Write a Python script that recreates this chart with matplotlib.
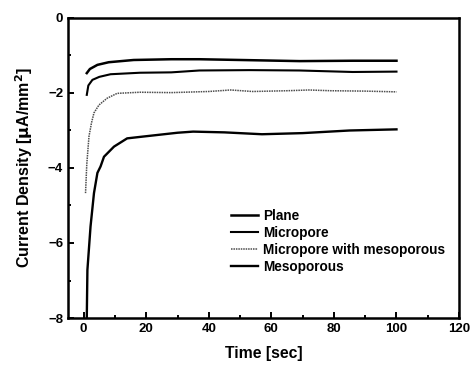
import matplotlib
matplotlib.use("Agg")
import matplotlib.pyplot as plt
from matplotlib.ticker import MultipleLocator

plt.rcParams['font.family'] = ['Liberation Sans', 'DejaVu Sans']
plt.rcParams['font.weight'] = 'bold'

# values
time_plane = [1.0, 2.0, 4.4, 8.0, 16, 28, 37, 50, 69, 86, 100]
plane = [-1.47, -1.36, -1.25, -1.18, -1.12, -1.10, -1.10, -1.12, -1.15, -1.14, -1.14]

time_micro = [1.0, 1.5, 2.8, 5.0, 8.6, 18, 28, 37, 53, 69, 86, 100]
micro = [-2.05, -1.80, -1.65, -1.57, -1.50, -1.46, -1.45, -1.40, -1.39, -1.40, -1.44, -1.43]

time_mwm = [0.6, 1.0, 1.7, 2.5, 3.3, 4.9, 7.5, 10.7, 18, 28, 40, 47, 54, 65, 72, 79, 90, 100]
mwm = [-4.67, -3.90, -3.16, -2.80, -2.53, -2.32, -2.14, -2.01, -1.98, -1.99, -1.96, -1.92,
       -1.96, -1.94, -1.92, -1.94, -1.95, -1.97]

time_meso = [1.0, 1.2, 2.2, 3.3, 4.4, 5.4, 6.5, 9.7, 13.9, 19.2, 30, 35, 45, 57, 70, 85, 95, 100]
meso = [-8.0, -6.72, -5.56, -4.67, -4.13, -3.96, -3.70, -3.43, -3.21, -3.16, -3.06, -3.03,
        -3.05, -3.10, -3.07, -3.00, -2.98, -2.97]

labels = ["Plane", "Micropore", "Micropore with mesoporous", "Mesoporous"]

fig = plt.figure(figsize=(4.7, 3.67), dpi=100)
ax = fig.add_axes([0.1447, 0.1335, 0.832, 0.8175])

ax.plot(time_plane, plane, color="black", lw=1.8, label=labels[0])
ax.plot(time_micro, micro, color="black", lw=1.5, label=labels[1])
ax.plot(time_mwm, mwm, color="0.3", lw=1.1, ls=(0, (1, 0.6)), label=labels[2])
ax.plot(time_meso, meso, color="black", lw=1.7, label=labels[3])

ax.set_xlim(-5, 120)
ax.set_ylim(-8, 0)
ax.xaxis.set_major_locator(MultipleLocator(20))
ax.xaxis.set_minor_locator(MultipleLocator(10))
ax.yaxis.set_major_locator(MultipleLocator(2))
ax.yaxis.set_minor_locator(MultipleLocator(1))
ax.tick_params(which="both", direction="in", width=1.4, labelsize=9.5)
ax.tick_params(which="major", length=4.5)
ax.tick_params(which="minor", length=2.5)
for s in ax.spines.values():
    s.set_linewidth(1.8)

ax.set_xlabel("Time [sec]", fontsize=11.3, fontweight="bold", labelpad=8)
ax.set_ylabel(r"Current Density [$\mathbf{\mu}$A/mm$^\mathbf{2}$]", fontsize=11.5,
              fontweight="bold", labelpad=9)

ax.legend(loc="upper left", bbox_to_anchor=(0.385, 0.405), frameon=False,
          handlelength=2.0, handletextpad=0.35, labelspacing=0.22,
          prop={"weight": "bold", "size": 9.8})

fig.savefig("out.png", dpi=100)
